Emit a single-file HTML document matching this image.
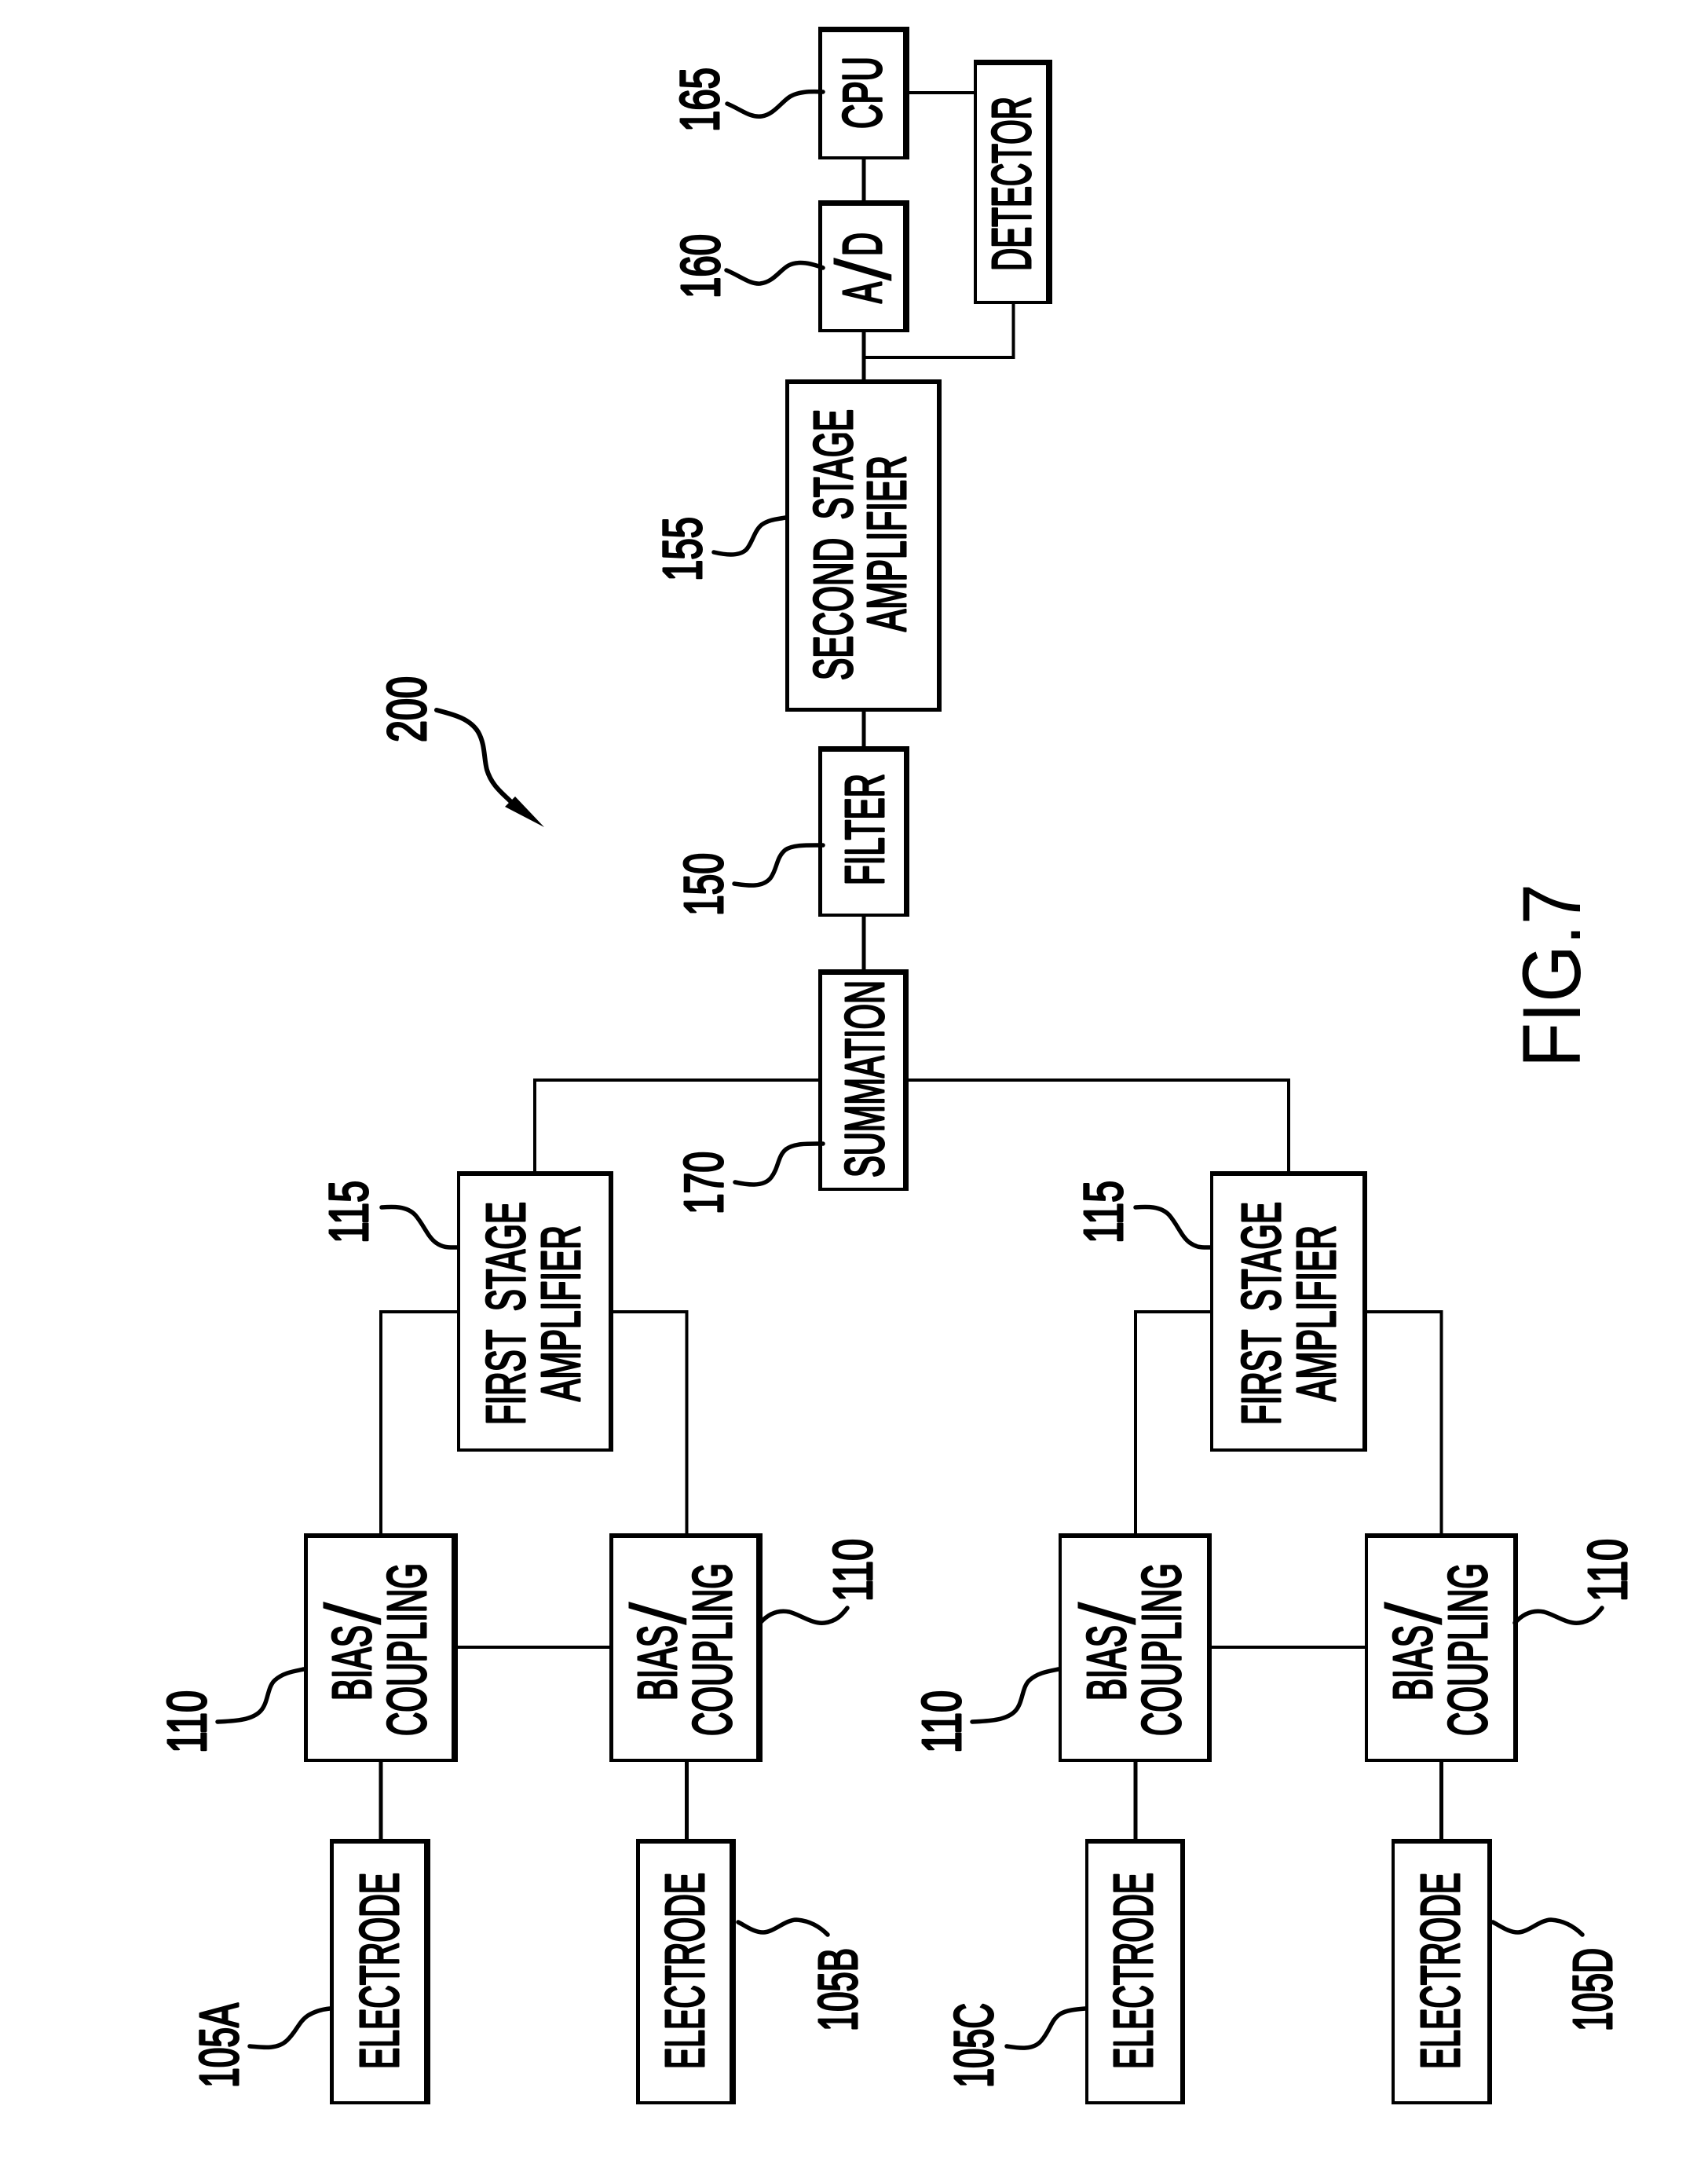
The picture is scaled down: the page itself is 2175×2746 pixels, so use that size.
<!DOCTYPE html>
<html>
<head>
<meta charset="utf-8">
<style>
html,body{margin:0;padding:0;background:#fff}
svg{display:block}
text{font-family:"Liberation Sans",sans-serif;font-size:70px;fill:#000;stroke:#000;stroke-width:3px;stroke-linejoin:round}
.f{font-size:105px;stroke-width:0}
.s{font-size:100px;stroke-width:0}
.l{fill:none;stroke:#000;stroke-width:4}
.m{fill:none;stroke:#000;stroke-width:5}
.q{fill:none;stroke:#000;stroke-width:5.5;stroke-linecap:round}
.o{fill:#000}
.i{fill:#fff}
</style>
</head>
<body>
<svg width="2175" height="2746" viewBox="0 0 2175 2746" xmlns="http://www.w3.org/2000/svg">
<rect width="2175" height="2746" fill="#fff"/>

<!-- connectors -->
<path class="m" d="M1100 203V255M1100 423V483M1100 906V950M1100 1167V1234"/>
<path class="l" d="M1158 118H1240M1290.5 387V455H1100"/>
<path class="l" d="M681 1491V1375H1042M1157 1375H1641V1491"/>
<path class="l" d="M485 1952V1670H582M781 1670H874.5V1952"/>
<path class="l" d="M1446 1952V1670H1541M1741 1670H1835.5V1952"/>
<path class="l" d="M583 2097H776M1543 2097H1738"/>
<path class="m" d="M485 2243V2341M874.5 2243V2341M1446 2243V2341M1835.5 2243V2341"/>

<!-- boxes -->
<rect class="o" x="1042" y="34" width="116" height="169"/><rect class="i" x="1047" y="41" width="103" height="158"/>
<rect class="o" x="1042" y="255" width="116" height="168"/><rect class="i" x="1047" y="262" width="103" height="157"/>
<rect class="o" x="1240" y="76" width="100" height="311"/><rect class="i" x="1244" y="83" width="88" height="300"/>
<rect class="o" x="1000" y="483" width="199" height="423"/><rect class="i" x="1005" y="489" width="188" height="412"/>
<rect class="o" x="1042" y="950" width="116" height="217"/><rect class="i" x="1047" y="957" width="104" height="206"/>
<rect class="o" x="1042" y="1234" width="115" height="282"/><rect class="i" x="1047" y="1241" width="103" height="271"/>
<rect class="o" x="582" y="1491" width="199" height="357"/><rect class="i" x="586" y="1497" width="189" height="347"/>
<rect class="o" x="1541" y="1491" width="200" height="357"/><rect class="i" x="1545" y="1497" width="190" height="347"/>
<rect class="o" x="387" y="1952" width="196" height="291"/><rect class="i" x="392" y="1958" width="183" height="281"/>
<rect class="o" x="776" y="1952" width="195" height="291"/><rect class="i" x="781" y="1958" width="182" height="281"/>
<rect class="o" x="1348" y="1952" width="195" height="291"/><rect class="i" x="1352" y="1958" width="185" height="281"/>
<rect class="o" x="1738" y="1952" width="195" height="291"/><rect class="i" x="1742" y="1958" width="185" height="281"/>
<rect class="o" x="420" y="2341" width="128" height="338"/><rect class="i" x="425" y="2347" width="115" height="328"/>
<rect class="o" x="810" y="2341" width="127" height="338"/><rect class="i" x="815" y="2347" width="114" height="328"/>
<rect class="o" x="1382" y="2341" width="127" height="338"/><rect class="i" x="1386" y="2347" width="117" height="328"/>
<rect class="o" x="1772" y="2341" width="128" height="338"/><rect class="i" x="1776" y="2347" width="118" height="328"/>

<!-- box labels -->
<text transform="translate(1122 164) rotate(-90)" textLength="92" lengthAdjust="spacingAndGlyphs">CPU</text>
<text transform="translate(1122 386) rotate(-90)" textLength="27" lengthAdjust="spacingAndGlyphs">A</text>
<text class="s" transform="translate(1134 358) rotate(-90)" textLength="30" lengthAdjust="spacingAndGlyphs">/</text>
<text transform="translate(1122 326) rotate(-90)" textLength="30" lengthAdjust="spacingAndGlyphs">D</text>
<text transform="translate(1312 345) rotate(-90)" textLength="222" lengthAdjust="spacingAndGlyphs">DETECTOR</text>
<text transform="translate(1085 866) rotate(-90)" textLength="345" lengthAdjust="spacingAndGlyphs">SECOND&#160;&#160;STAGE</text>
<text transform="translate(1153 804) rotate(-90)" textLength="224" lengthAdjust="spacingAndGlyphs">AMPLIFIER</text>
<text transform="translate(1125 1127) rotate(-90)" textLength="142" lengthAdjust="spacingAndGlyphs">FILTER</text>
<text transform="translate(1125 1499) rotate(-90)" textLength="251" lengthAdjust="spacingAndGlyphs">SUMMATION</text>
<text transform="translate(668 1814) rotate(-90)" textLength="284" lengthAdjust="spacingAndGlyphs">FIRST&#160;&#160;STAGE</text>
<text transform="translate(738 1784) rotate(-90)" textLength="224" lengthAdjust="spacingAndGlyphs">AMPLIFIER</text>
<text transform="translate(1630 1814) rotate(-90)" textLength="284" lengthAdjust="spacingAndGlyphs">FIRST&#160;&#160;STAGE</text>
<text transform="translate(1700 1784) rotate(-90)" textLength="224" lengthAdjust="spacingAndGlyphs">AMPLIFIER</text>

<text transform="translate(472 2165) rotate(-90)" textLength="96" lengthAdjust="spacingAndGlyphs">BIAS</text>
<text class="s" transform="translate(484 2069) rotate(-90)" textLength="30" lengthAdjust="spacingAndGlyphs">/</text>
<text transform="translate(542 2210) rotate(-90)" textLength="220" lengthAdjust="spacingAndGlyphs">COUPLING</text>
<text transform="translate(861 2165) rotate(-90)" textLength="96" lengthAdjust="spacingAndGlyphs">BIAS</text>
<text class="s" transform="translate(873 2069) rotate(-90)" textLength="30" lengthAdjust="spacingAndGlyphs">/</text>
<text transform="translate(931 2210) rotate(-90)" textLength="220" lengthAdjust="spacingAndGlyphs">COUPLING</text>
<text transform="translate(1433 2165) rotate(-90)" textLength="96" lengthAdjust="spacingAndGlyphs">BIAS</text>
<text class="s" transform="translate(1445 2069) rotate(-90)" textLength="30" lengthAdjust="spacingAndGlyphs">/</text>
<text transform="translate(1503 2210) rotate(-90)" textLength="220" lengthAdjust="spacingAndGlyphs">COUPLING</text>
<text transform="translate(1823 2165) rotate(-90)" textLength="96" lengthAdjust="spacingAndGlyphs">BIAS</text>
<text class="s" transform="translate(1835 2069) rotate(-90)" textLength="30" lengthAdjust="spacingAndGlyphs">/</text>
<text transform="translate(1893 2210) rotate(-90)" textLength="220" lengthAdjust="spacingAndGlyphs">COUPLING</text>

<text transform="translate(507 2634) rotate(-90)" textLength="250" lengthAdjust="spacingAndGlyphs">ELECTRODE</text>
<text transform="translate(896 2634) rotate(-90)" textLength="250" lengthAdjust="spacingAndGlyphs">ELECTRODE</text>
<text transform="translate(1467 2634) rotate(-90)" textLength="250" lengthAdjust="spacingAndGlyphs">ELECTRODE</text>
<text transform="translate(1858 2634) rotate(-90)" textLength="250" lengthAdjust="spacingAndGlyphs">ELECTRODE</text>

<!-- reference numerals -->
<text transform="translate(915 168) rotate(-90)" textLength="82" lengthAdjust="spacingAndGlyphs">165</text>
<text transform="translate(916 380) rotate(-90)" textLength="82" lengthAdjust="spacingAndGlyphs">160</text>
<text transform="translate(893 740) rotate(-90)" textLength="82" lengthAdjust="spacingAndGlyphs">155</text>
<text transform="translate(920 1166) rotate(-90)" textLength="80" lengthAdjust="spacingAndGlyphs">150</text>
<text transform="translate(920 1546) rotate(-90)" textLength="80" lengthAdjust="spacingAndGlyphs">170</text>
<text transform="translate(542 945) rotate(-90)" textLength="84" lengthAdjust="spacingAndGlyphs">200</text>
<text transform="translate(468 1583) rotate(-90)" textLength="80" lengthAdjust="spacingAndGlyphs">115</text>
<text transform="translate(1429 1583) rotate(-90)" textLength="80" lengthAdjust="spacingAndGlyphs">115</text>
<text transform="translate(262 2232) rotate(-90)" textLength="80" lengthAdjust="spacingAndGlyphs">110</text>
<text transform="translate(1223 2232) rotate(-90)" textLength="80" lengthAdjust="spacingAndGlyphs">110</text>
<text transform="translate(1110 2039) rotate(-90)" textLength="80" lengthAdjust="spacingAndGlyphs">110</text>
<text transform="translate(2071 2039) rotate(-90)" textLength="80" lengthAdjust="spacingAndGlyphs">110</text>
<text transform="translate(303 2658) rotate(-90)" textLength="108" lengthAdjust="spacingAndGlyphs">105A</text>
<text transform="translate(1264 2658) rotate(-90)" textLength="108" lengthAdjust="spacingAndGlyphs">105C</text>
<text transform="translate(1091 2586) rotate(-90)" textLength="106" lengthAdjust="spacingAndGlyphs">105B</text>
<text transform="translate(2052 2586) rotate(-90)" textLength="106" lengthAdjust="spacingAndGlyphs">105D</text>

<!-- leaders -->
<path class="q" d="M926 132C945 140 955 150 970 148C985 146 995 130 1006 123C1016 117 1030 116 1048 117"/>
<path class="q" d="M925 344C944 352 955 362 968 361C985 359 993 344 1004 338C1015 332 1030 334 1048 341"/>
<path class="q" d="M909 703C922 706 940 709 950 700C958 692 960 676 970 668C980 661 990 661 1000 659"/>
<path class="q" d="M935 1125C950 1127 970 1131 981 1118C990 1106 988 1092 1000 1082C1010 1075 1030 1076 1048 1076"/>
<path class="q" d="M936 1505C950 1508 972 1512 982 1499C992 1486 990 1472 1001 1463C1012 1455 1030 1456 1048 1456"/>
<path class="q" d="M486 1537C500 1536 518 1535 529 1547C540 1560 545 1575 555 1582C565 1589 572 1588 582 1588"/>
<path class="q" d="M1446 1537C1460 1536 1478 1535 1489 1547C1500 1560 1505 1575 1515 1582C1525 1589 1532 1588 1541 1588"/>
<path class="q" d="M277 2192C295 2191 320 2191 332 2178C342 2167 340 2148 350 2139C360 2130 372 2128 387 2125"/>
<path class="q" d="M1238 2192C1256 2191 1281 2191 1293 2178C1303 2167 1301 2148 1311 2139C1321 2130 1333 2128 1348 2125"/>
<path class="q" d="M968 2066C978 2055 990 2049 1005 2052C1020 2056 1035 2068 1050 2066C1065 2064 1072 2056 1079 2047"/>
<path class="q" d="M1929 2066C1939 2055 1951 2049 1966 2052C1981 2056 1996 2068 2011 2066C2026 2064 2033 2056 2040 2047"/>
<path class="q" d="M318 2605C332 2606 352 2610 365 2598C378 2586 380 2574 392 2566C400 2561 410 2558 420 2557"/>
<path class="q" d="M1282 2605C1295 2607 1315 2611 1326 2598C1338 2584 1338 2572 1350 2564C1358 2559 1370 2558 1382 2557"/>
<path class="q" d="M940 2447C950 2452 960 2460 972 2460C985 2460 1000 2444 1014 2444C1030 2445 1043 2452 1054 2463"/>
<path class="q" d="M1901 2447C1911 2452 1921 2460 1933 2460C1946 2460 1961 2444 1975 2444C1991 2445 2004 2452 2015 2463"/>

<!-- arrow 200 -->
<path class="q" style="stroke-width:6" d="M556 904C575 909 598 914 609 932C618 948 616 965 620 980C626 1000 640 1010 650 1020"/>
<polygon points="693,1053 643,1027 656,1014" fill="#000"/>

<!-- figure label -->
<text class="f" transform="translate(2012 1359) rotate(-90)" textLength="234" lengthAdjust="spacingAndGlyphs">FIG.7</text>
</svg>
</body>
</html>
